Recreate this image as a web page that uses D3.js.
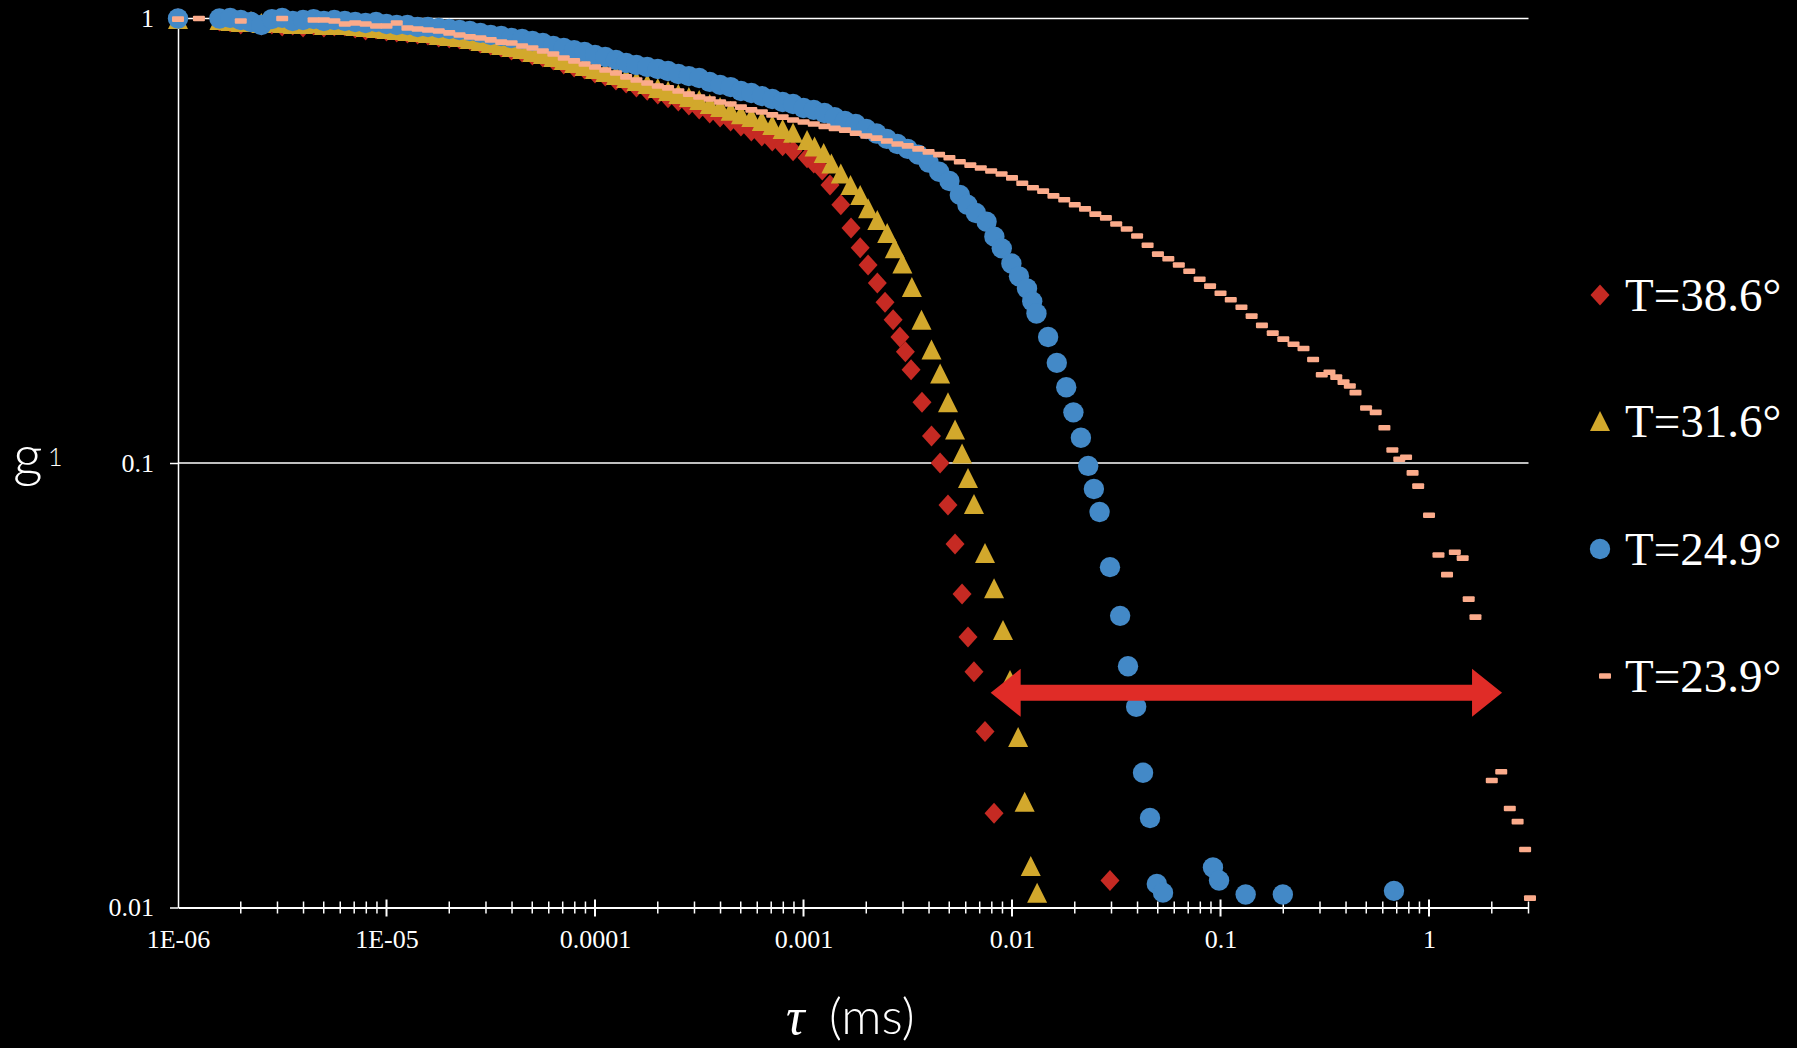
<!DOCTYPE html>
<html>
<head>
<meta charset="utf-8">
<script src="https://cdn.jsdelivr.net/npm/d3@7"></script>
<style>
  html, body { margin: 0; padding: 0; background: #000; }
  svg { display: block; }
</style>
</head>
<body>
<div id="chart"></div>
<script>
// correlator lag times (ms) for the dense part of the curves
const lags = [
  1e-6, 1.12e-6, 1.26e-6, 1.41e-6, 1.58e-6, 1.78e-6, 2e-6, 2.24e-6, 2.51e-6, 2.82e-6,
  3.16e-6, 3.55e-6, 3.98e-6, 4.47e-6, 5.01e-6, 5.62e-6, 6.31e-6, 7.08e-6, 7.94e-6, 8.91e-6,
  1e-5, 1.12e-5, 1.26e-5, 1.41e-5, 1.58e-5, 1.78e-5, 2e-5, 2.24e-5, 2.51e-5, 2.82e-5,
  3.16e-5, 3.55e-5, 3.98e-5, 4.47e-5, 5.01e-5, 5.62e-5, 6.31e-5, 7.08e-5, 7.94e-5, 8.91e-5,
  1e-4, 1.12e-4, 1.26e-4, 1.41e-4, 1.58e-4, 1.78e-4, 2e-4, 2.24e-4, 2.51e-4, 2.82e-4,
  3.16e-4, 3.55e-4, 3.98e-4, 4.47e-4, 5.01e-4, 5.62e-4, 6.31e-4, 7.08e-4, 7.94e-4, 8.91e-4,
  1e-3, 1.12e-3, 1.26e-3, 1.41e-3, 1.58e-3, 1.78e-3, 2e-3, 2.24e-3, 2.51e-3, 2.82e-3,
  3.16e-3, 3.55e-3, 3.98e-3, 4.47e-3, 5.01e-3, 5.62e-3, 6.31e-3, 7.08e-3, 7.94e-3, 8.91e-3,
  0.01, 0.0112, 0.0126, 0.0141, 0.0158, 0.0178, 0.02, 0.0224, 0.0251, 0.0282,
  0.0316, 0.0355, 0.0398, 0.0447, 0.0501, 0.0562, 0.0631, 0.0708, 0.0794, 0.0891,
  0.1, 0.112, 0.126, 0.141, 0.158, 0.178, 0.2, 0.224
];

// g1 on the lag grid (null = no point there)
const band386 = [
  1.0, null, null, null, 0.987, 0.982, 0.972, 0.982, 0.967, 0.972, 0.962, 0.967, 0.957, 0.967, 0.957, 0.962, 0.962, 0.952, 0.942, 0.947,
  0.937, 0.932, 0.928, 0.923, 0.918, 0.909, 0.904, 0.899, 0.895, 0.881, 0.872, 0.863, 0.849, 0.841, 0.828, 0.819, 0.807, 0.790, 0.778, 0.770,
  0.754, 0.742, 0.727, 0.716, 0.701, 0.690, 0.676, 0.663, 0.652, 0.639, 0.626, 0.613, 0.600, 0.588, 0.573, 0.558, 0.544, 0.530, 0.517, 0.504
];
const band316 = [
  0.997, null, null, null, 0.992, 0.987, 0.982, 0.987, 0.977, 0.982, 0.977, 0.972, 0.972, 0.977, 0.967, 0.967, 0.967, 0.962, 0.957, 0.952,
  0.947, 0.942, 0.937, 0.932, 0.928, 0.918, 0.913, 0.909, 0.899, 0.890, 0.881, 0.872, 0.863, 0.854, 0.841, 0.832, 0.819, 0.807, 0.794, 0.782,
  0.770, 0.758, 0.746, 0.735, 0.723, 0.712, 0.698, 0.687, 0.676, 0.666, 0.656, 0.642, 0.632, 0.620, 0.609, 0.600, 0.588, 0.576, 0.564, 0.553
];
const band249 = [
  1.0, null, null, null, 1.0, 1.003, 0.992, 0.982, 0.967, 0.997, 1.003, 0.987, 0.992, 0.997, 0.987, 0.992, 0.987, 0.982, 0.977, 0.982,
  0.972, 0.967, 0.967, 0.957, 0.957, 0.952, 0.947, 0.942, 0.937, 0.928, 0.918, 0.913, 0.904, 0.899, 0.890, 0.881, 0.867, 0.858, 0.849, 0.841,
  0.828, 0.819, 0.807, 0.794, 0.786, 0.778, 0.770, 0.762, 0.750, 0.742, 0.735, 0.720, 0.709, 0.701, 0.687, 0.680, 0.669, 0.659, 0.649, 0.642,
  0.629, 0.623, 0.613, 0.600, 0.588, 0.579, 0.564, 0.551, 0.536, 0.522, 0.509, 0.494, 0.474, 0.452, 0.431, 0.401
];
const band239 = [
  0.997, null, 1.0, null, null, null, 0.987, null, null, null, 1.0, null, null, 0.992, 0.992, 0.987, 0.972, 0.977, 0.972, 0.962,
  0.962, 0.977, 0.952, 0.947, 0.942, 0.937, 0.928, 0.918, 0.909, 0.904, 0.895, 0.885, 0.881, 0.867, 0.858, 0.845, 0.832, 0.815, 0.803, 0.790,
  0.778, 0.766, 0.754, 0.739, 0.727, 0.716, 0.705, 0.698, 0.687, 0.676, 0.666, 0.659, 0.649, 0.642, 0.632, 0.623, 0.616, 0.607, 0.600, 0.591,
  0.585, 0.579, 0.572, 0.566, 0.561, 0.552, 0.544, 0.538, 0.530, 0.522, 0.517, 0.509, 0.501, 0.494, 0.486, 0.476, 0.468, 0.461, 0.454, 0.447,
  0.438, 0.426, 0.416, 0.409, 0.399, 0.391, 0.381, 0.373, 0.363, 0.356, 0.345, 0.336, 0.324, 0.309, 0.295, 0.288, 0.279, 0.270, 0.259, 0.250,
  0.241, 0.233, 0.224, 0.214, 0.204, 0.196, 0.190, 0.185
];

// sparse decay tails, [tau (ms), g1]
const tail386 = [
  [1.04e-3, 0.486], [1.12e-3, 0.473], [1.23e-3, 0.456], [1.34e-3, 0.422], [1.51e-3, 0.381],
  [1.69e-3, 0.338], [1.87e-3, 0.305], [2.04e-3, 0.279], [2.26e-3, 0.254], [2.46e-3, 0.230],
  [2.69e-3, 0.210], [2.90e-3, 0.192], [3.08e-3, 0.178], [3.28e-3, 0.162], [3.70e-3, 0.137],
  [4.11e-3, 0.115], [4.52e-3, 0.100], [4.93e-3, 0.0804], [5.33e-3, 0.0657], [5.76e-3, 0.0507],
  [6.15e-3, 0.0406], [6.57e-3, 0.0339], [7.42e-3, 0.0249], [8.20e-3, 0.0163], [0.0295, 0.0115]
];
const tail316 = [
  [1.04e-3, 0.533], [1.13e-3, 0.515], [1.25e-3, 0.498], [1.36e-3, 0.472], [1.51e-3, 0.448],
  [1.68e-3, 0.422], [1.87e-3, 0.401], [2.04e-3, 0.374], [2.26e-3, 0.352], [2.52e-3, 0.329],
  [2.74e-3, 0.304], [2.98e-3, 0.281], [3.31e-3, 0.249], [3.68e-3, 0.210], [4.11e-3, 0.180],
  [4.52e-3, 0.159], [4.93e-3, 0.137], [5.33e-3, 0.119], [5.76e-3, 0.105], [6.15e-3, 0.0925],
  [6.57e-3, 0.0809], [7.42e-3, 0.0627], [8.20e-3, 0.0523], [9.05e-3, 0.0421], [9.78e-3, 0.0325],
  [0.0107, 0.0242], [0.0115, 0.0173], [0.0123, 0.0124], [0.0132, 0.0108]
];
const tail249 = [
  [6.11e-3, 0.381], [6.71e-3, 0.365], [7.55e-3, 0.349], [8.23e-3, 0.323], [8.93e-3, 0.304],
  [9.93e-3, 0.281], [0.0108, 0.263], [0.0118, 0.247], [0.0125, 0.231], [0.0131, 0.217],
  [0.0149, 0.192], [0.0164, 0.168], [0.0182, 0.148], [0.0197, 0.130], [0.0214, 0.114],
  [0.0232, 0.0985], [0.0247, 0.0874], [0.0263, 0.0776], [0.0295, 0.0583], [0.0330, 0.0453],
  [0.0360, 0.0349], [0.0394, 0.0283], [0.0425, 0.0201], [0.0459, 0.0159], [0.0495, 0.0113],
  [0.0530, 0.0108], [0.0920, 0.0123], [0.0984, 0.0115], [0.132, 0.0107], [0.199, 0.0107],
  [0.679, 0.0109]
];
const tail239 = [
  [0.250, 0.181], [0.278, 0.171], [0.306, 0.158], [0.333, 0.160], [0.359, 0.156],
  [0.389, 0.152], [0.417, 0.149], [0.444, 0.144], [0.499, 0.133], [0.555, 0.130],
  [0.611, 0.120], [0.667, 0.107], [0.720, 0.102], [0.776, 0.103], [0.834, 0.095],
  [0.887, 0.0887], [1.0, 0.0763], [1.11, 0.0621], [1.22, 0.0561], [1.33, 0.0630],
  [1.45, 0.0611], [1.55, 0.0494], [1.67, 0.0450], [2.00, 0.0193], [2.22, 0.0202],
  [2.44, 0.0167], [2.66, 0.0156], [2.89, 0.0135], [3.05, 0.0105]
];

const seriesNames = ["T=38.6°", "T=31.6°", "T=24.9°", "T=23.9°"];
const xTicks = [1e-6, 1e-5, 1e-4, 1e-3, 0.01, 0.1, 1];
const xTickLabels = ["1E-06", "1E-05", "0.0001", "0.001", "0.01", "0.1", "1"];
const yTicks = [1, 0.1, 0.01];
const yTickLabels = ["1", "0.1", "0.01"];
// arrow annotation: lag span and level
const arrowSpan = [0.0079, 2.24];
const arrowLevel = 0.0304;

// colours
const colorRed = "#c62a23";
const colorGold = "#d2a82c";
const colorBlue = "#4389c7";
const colorSalmon = "#fbab8b";
const colorArrow = "#e02c27";

const width = 1797, height = 1048;
const svg = d3.select("#chart").append("svg")
  .attr("width", width)
  .attr("height", height)
  .style("background", "#000");

const x = d3.scaleLog().domain([1e-6, 3]).range([178, 1528.5]);
const y = d3.scaleLog().domain([0.01, 1]).range([907.5, 18.5]);

const serif = "'Liberation Serif', 'Times New Roman', serif";

// gridlines
svg.append("g").selectAll("line")
  .data([1, 0.1])
  .join("line")
  .attr("x1", x(1e-6)).attr("x2", x(3))
  .attr("y1", d => y(d)).attr("y2", d => y(d))
  .attr("stroke", "#fff").attr("stroke-width", 1.5);

// y axis
const yAxis = svg.append("g")
  .attr("transform", `translate(${x(1e-6)},0)`)
  .call(d3.axisLeft(y).tickValues(yTicks).tickFormat((d, i) => yTickLabels[i])
    .tickSize(8).tickSizeOuter(0).tickPadding(16));
yAxis.select(".domain").attr("stroke", "#fff").attr("stroke-width", 1.5);
yAxis.selectAll(".tick line").attr("stroke", "#fff").attr("stroke-width", 1.5);
yAxis.selectAll("text").attr("fill", "#fff").style("font-family", serif).style("font-size", "26px");

// x axis
const xAxis = svg.append("g")
  .attr("transform", `translate(0,${y(0.01)})`)
  .call(d3.axisBottom(x).tickValues(xTicks).tickFormat((d, i) => xTickLabels[i])
    .tickSize(0).tickSizeOuter(0));
xAxis.select(".domain").attr("stroke", "#fff").attr("stroke-width", 2);
xAxis.selectAll("text").attr("fill", "#fff").attr("y", 40).attr("dy", 0)
  .style("font-family", serif).style("font-size", "26px");

const minorTicks = [];
xTicks.forEach(d => {
  for (let m = 2; m <= 9; m++) if (d * m <= 3.0001) minorTicks.push(d * m);
});
xAxis.append("g").selectAll("line")
  .data(minorTicks)
  .join("line")
  .attr("x1", d => x(d)).attr("x2", d => x(d))
  .attr("y1", -6).attr("y2", 6)
  .attr("stroke", "#fff").attr("stroke-width", 1.5);
xAxis.append("g").selectAll("line")
  .data(xTicks.slice(1))
  .join("line")
  .attr("x1", d => x(d)).attr("x2", d => x(d))
  .attr("y1", -8).attr("y2", 9)
  .attr("stroke", "#fff").attr("stroke-width", 2);

// markers
const diamond = "M0,-10.5L9.5,0L0,10.5L-9.5,0Z";
const triangle = "M0,-10L10,10L-10,10Z";

function points(band, tail) {
  return band.map((g, i) => [lags[i], g]).filter(d => d[1] != null).concat(tail);
}

const series = [
  {name: seriesNames[0], color: colorRed, shape: "diamond", pts: points(band386, tail386)},
  {name: seriesNames[1], color: colorGold, shape: "triangle", pts: points(band316, tail316)},
  {name: seriesNames[2], color: colorBlue, shape: "circle", pts: points(band249, tail249)},
  {name: seriesNames[3], color: colorSalmon, shape: "dash", pts: points(band239, tail239)}
];

function drawMarker(sel, shape, color) {
  if (shape === "circle") {
    sel.append("circle").attr("r", 10.2).attr("fill", color);
  } else if (shape === "dash") {
    sel.append("rect").attr("x", -6).attr("y", -2.8).attr("width", 12).attr("height", 5.6)
      .attr("rx", 1).attr("fill", color);
  } else {
    sel.append("path").attr("d", shape === "diamond" ? diamond : triangle).attr("fill", color);
  }
}

const plot = svg.append("g");
series.forEach(s => {
  plot.append("g").selectAll("g")
    .data(s.pts)
    .join("g")
    .attr("transform", d => `translate(${x(d[0])},${y(d[1])})`)
    .call(sel => drawMarker(sel, s.shape, s.color));
});

// double-headed arrow
const ax0 = x(arrowSpan[0]), ax1 = x(arrowSpan[1]), ay = y(arrowLevel);
const head = 30, hw = 24, sw = 8;
svg.append("path")
  .attr("d", `M${ax0},${ay} L${ax0 + head},${ay - hw} L${ax0 + head},${ay - sw} L${ax1 - head},${ay - sw}
    L${ax1 - head},${ay - hw} L${ax1},${ay} L${ax1 - head},${ay + hw} L${ax1 - head},${ay + sw}
    L${ax0 + head},${ay + sw} L${ax0 + head},${ay + hw} Z`)
  .attr("fill", colorArrow);

// legend
const legendY = [311, 437, 565, 692];
const legend = svg.append("g");
series.forEach((s, i) => {
  const row = legend.append("g");
  row.append("g")
    .attr("transform", `translate(${s.shape === "dash" ? 1605 : 1600},${legendY[i] - 16})`)
    .call(sel => drawMarker(sel, s.shape, s.color));
  row.append("text")
    .attr("x", 1625).attr("y", legendY[i])
    .attr("fill", "#fff")
    .style("font-family", serif).style("font-size", "47px")
    .text(s.name);
});

// axis titles
svg.append("text")
  .attr("x", 13).attr("y", 476)
  .attr("fill", "#fff")
  .style("font-family", "Lato, sans-serif").style("font-size", "58px").style("font-weight", 300)
  .text("g");
svg.append("text")
  .attr("x", 48).attr("y", 466)
  .attr("fill", "#fff")
  .style("font-family", "Lato, sans-serif").style("font-size", "25px").style("font-weight", 300)
  .text("1");

svg.append("text")
  .attr("x", 786).attr("y", 1034)
  .attr("fill", "#fff")
  .style("font-family", serif).style("font-style", "italic").style("font-size", "52px")
  .text("τ");
svg.append("text")
  .attr("x", 829).attr("y", 1034)
  .attr("fill", "#fff")
  .style("font-family", "Lato, sans-serif").style("font-size", "50px").style("font-weight", 300)
  .text("(ms)");
</script>
</body>
</html>
